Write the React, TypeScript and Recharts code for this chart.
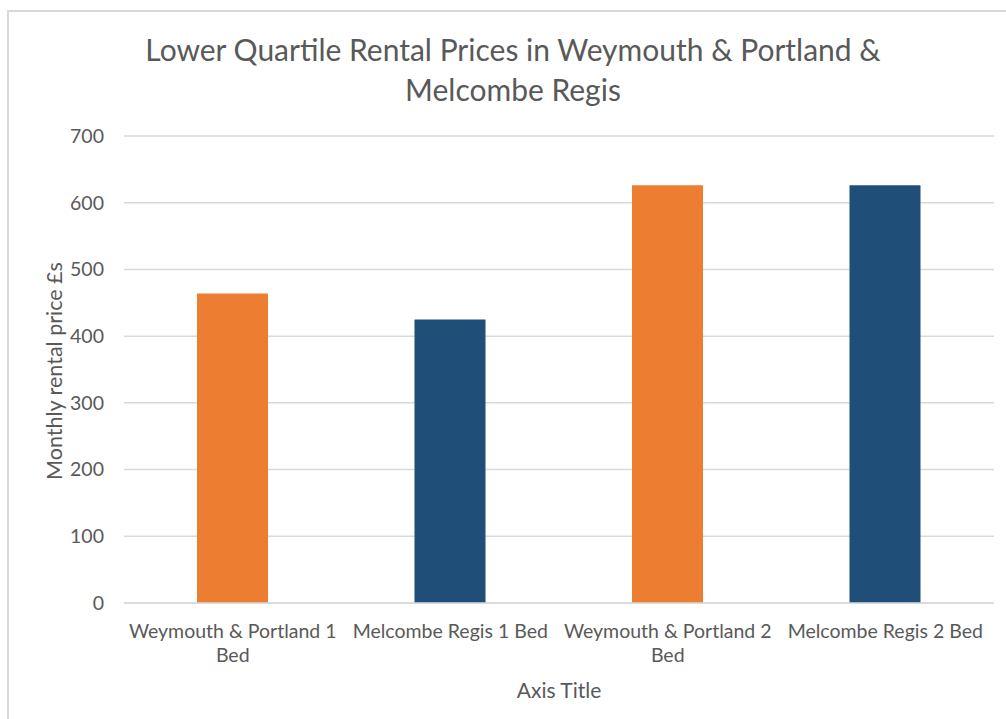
import React from "react";
import { BarChart, Bar, XAxis, YAxis, CartesianGrid, Cell } from "recharts";

const categories = [
  "Weymouth & Portland 1 Bed",
  "Melcombe Regis 1 Bed",
  "Weymouth & Portland 2 Bed",
  "Melcombe Regis 2 Bed",
];
const rentValues = [464, 425, 626, 626];
const barColors = ["#ED7D31", "#1F4E79", "#ED7D31", "#1F4E79"];
const yTicks = [0, 100, 200, 300, 400, 500, 600, 700];
const titleLines = ["Lower Quartile Rental Prices in Weymouth & Portland &", "Melcombe Regis"];
const yAxisTitle = "Monthly rental price £s";
const xAxisTitle = "Axis Title";

const data = categories.map((c, i) => ({ name: c, value: rentValues[i] }));

const FONT = "Lato, 'Liberation Sans', sans-serif";
const TXT = "#595959";

const XTick = (props: any) => {
  const { x, y, payload } = props;
  const label: string = payload.value;
  let lines = [label];
  if (label.length > 22) {
    const idx = label.lastIndexOf(" ");
    lines = [label.slice(0, idx), label.slice(idx + 1)];
  }
  return (
    <g transform={`translate(${x},${y})`}>
      {lines.map((l, i) => (
        <text
          key={i}
          x={0}
          y={0}
          dy={27 + i * 24}
          textAnchor="middle"
          fill={TXT}
          fontSize={19.5}
          fontFamily={FONT}
        >
          {l}
        </text>
      ))}
    </g>
  );
};

export default function App() {
  return (
    <div style={{ position: "absolute", left: 0, top: 0, width: 1006, height: 719, background: "#fff", overflow: "hidden" }}>
      <div
        style={{
          position: "absolute",
          left: 7,
          top: 10,
          width: 1010,
          height: 720,
          borderLeft: "2px solid #D9D9D9",
          borderTop: "2px solid #D9D9D9",
          boxSizing: "border-box",
        }}
      />
      <div style={{ position: "absolute", left: 0, top: 0 }}>
        <BarChart
          width={1006}
          height={719}
          data={data}
          margin={{ top: 136, right: 12, bottom: 0, left: 0 }}
        >
          <CartesianGrid vertical={false} stroke="#D9D9D9" strokeWidth={1.5} />
          <XAxis
            dataKey="name"
            height={116}
            tick={<XTick />}
            tickLine={false}
            axisLine={{ stroke: "#D9D9D9", strokeWidth: 1.5 }}
            interval={0}
          />
          <YAxis
            width={124}
            domain={[0, 700]}
            ticks={yTicks}
            axisLine={false}
            tickLine={false}
            tickSize={0}
            tickMargin={20}
            tick={{ fill: TXT, fontSize: 19.5, fontFamily: FONT }}
          />
          <Bar dataKey="value" barSize={71} isAnimationActive={false}>
            {data.map((d, i) => (
              <Cell key={i} fill={barColors[i]} />
            ))}
          </Bar>
        </BarChart>
      </div>
      {titleLines.map((t, i) => (
        <div
          key={i}
          style={{
            position: "absolute",
            left: 7,
            width: 1012,
            top: 31 + i * 40,
            textAlign: "center",
            fontFamily: FONT,
            fontSize: 30,
            color: TXT,
            whiteSpace: "nowrap",
            lineHeight: "36px",
          }}
        >
          {t}
        </div>
      ))}
      <div
        style={{
          position: "absolute",
          left: 54,
          top: 371,
          transform: "translate(-50%, -50%) rotate(-90deg)",
          fontFamily: FONT,
          fontSize: 21.5,
          color: TXT,
          whiteSpace: "nowrap",
        }}
      >
        {yAxisTitle}
      </div>
      <div
        style={{
          position: "absolute",
          left: 559,
          top: 689,
          transform: "translate(-50%, -50%)",
          fontFamily: FONT,
          fontSize: 21,
          color: TXT,
          whiteSpace: "nowrap",
        }}
      >
        {xAxisTitle}
      </div>
    </div>
  );
}
